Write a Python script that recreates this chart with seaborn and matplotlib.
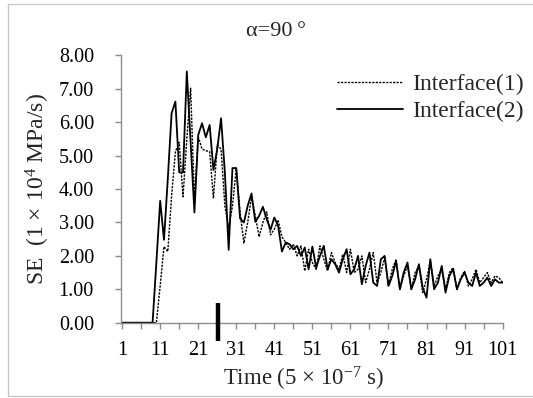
import numpy as np
import pandas as pd
import matplotlib
matplotlib.use("Agg")
import matplotlib.pyplot as plt
import seaborn as sns

# Time steps (units of 5e-7 s)
time = list(range(1, 102))

# Stress rate SE (1e4 MPa/s) along each interface
interface_1 = [
    0, 0, 0, 0, 0, 0, 0, 0, 0, 0,
    1.1, 2.28, 2.13, 3.8, 5.12, 5.4, 3.77, 5.5, 7.02, 3.67,
    5.57, 5.2, 5.15, 5.12, 3.72, 5.32, 5.2, 3.5, 2.83, 3.5,
    4.62, 3.3, 2.38, 3.0, 3.77, 3.2, 2.57, 3.0, 3.32, 2.63,
    2.8, 3.07, 2.57, 2.4, 2.2, 2.35, 2.0, 2.3, 1.55, 2.2,
    1.8, 1.6, 2.3, 1.9, 1.55, 2.1, 1.8, 1.6, 2.05, 1.5,
    2.2, 1.5, 1.6, 2.0, 1.2, 1.6, 2.1, 1.2, 1.5, 1.95,
    1.1, 1.6, 1.9, 1.0, 1.4, 1.7, 1.0, 1.5, 1.7, 0.9,
    1.3, 1.85, 1.1, 1.4, 1.6, 1.0, 1.5, 1.65, 1.0, 1.35,
    1.55, 1.1, 1.3, 1.6, 1.2, 1.35, 1.5, 1.2, 1.4, 1.35,
    1.2,
]
interface_2 = [
    0, 0, 0, 0, 0, 0, 0, 0, 0, 1.8,
    3.65, 2.48, 4.3, 6.27, 6.62, 4.5, 4.5, 7.52, 5.4, 3.3,
    5.62, 5.97, 5.55, 5.92, 4.57, 5.2, 6.12, 4.5, 2.18, 4.63,
    4.63, 3.12, 3.0, 3.5, 3.87, 3.02, 3.2, 3.47, 3.1, 2.78,
    3.15, 2.9, 2.13, 2.4, 2.35, 2.2, 2.3, 2.0, 2.25, 1.6,
    2.28, 1.65, 2.0, 2.3, 1.6, 1.9, 1.75, 1.5, 1.9, 2.2,
    1.45, 1.6, 2.0, 1.15, 1.7, 2.1, 1.2, 1.1, 1.9, 2.0,
    1.1, 1.4, 1.85, 1.0, 1.5, 1.8, 1.0, 1.3, 1.75, 1.05,
    0.75, 1.9, 1.0, 1.2, 1.7, 0.9, 1.4, 1.6, 1.0, 1.3,
    1.5, 1.2, 1.1, 1.5, 1.1, 1.2, 1.35, 1.1, 1.3, 1.2,
    1.2,
]
series_names = ["Interface(1)", "Interface(2)"]

x_ticks = list(range(1, 102, 5))
x_labels = [str(t) if (t - 1) % 10 == 0 else "" for t in x_ticks]
y_ticks = [0, 1, 2, 3, 4, 5, 6, 7, 8]
y_labels = [f"{v:.2f}" for v in y_ticks]

# Wave arrival marker on the time axis
marker_time = 26.3
marker_span = (-0.55, 0.6)

sns.set_theme(style="white")
plt.rcParams["font.family"] = ["Liberation Serif", "DejaVu Serif"]
plt.rcParams["mathtext.fontset"] = "custom"
plt.rcParams["mathtext.rm"] = "Liberation Serif"
plt.rcParams["mathtext.it"] = "Liberation Serif:italic"

df = pd.DataFrame({
    "time": time * 2,
    "SE": interface_1 + interface_2,
    "series": [series_names[0]] * len(time) + [series_names[1]] * len(time),
})

fig = plt.figure(figsize=(5.33, 3.98), dpi=100)
ax = fig.add_axes([0.227, 0.1892, 0.7167, 0.6714])

sns.lineplot(data=df[df.series == series_names[0]], x="time", y="SE", ax=ax,
             color="black", lw=1.0, dashes=False, linestyle=(0, (1.6, 0.9)),
             label=series_names[0])
sns.lineplot(data=df[df.series == series_names[1]], x="time", y="SE", ax=ax,
             color="black", lw=1.3, label=series_names[1])

ax.plot([marker_time, marker_time], marker_span, color="black", lw=3.2,
        solid_capstyle="butt", clip_on=False, zorder=5)

ax.set_xlim(0.7, 101.1)
ax.set_ylim(0, 8)
ax.set_xticks(x_ticks)
ax.set_xticklabels(x_labels)
ax.set_yticks(y_ticks)
ax.set_yticklabels(y_labels)

axis_grey = "#8c8c8c"
for side in ["top", "right"]:
    ax.spines[side].set_visible(False)
for side in ["left", "bottom"]:
    ax.spines[side].set_color(axis_grey)
    ax.spines[side].set_linewidth(1.0)
ax.tick_params(axis="y", direction="out", length=4.5, width=1.0, color=axis_grey,
               labelsize=14.5, pad=15, left=True, labelcolor="black")
ax.tick_params(axis="x", direction="out", length=4, width=1.0, color=axis_grey,
               labelsize=14.5, pad=9, bottom=True, labelcolor="black")

ax.set_xlabel("Time (5 × 10$^{-7}$ s)", fontsize=16.5, labelpad=4)
ax.xaxis.label.set_x(0.478)
ax.set_ylabel("SE  (1 × 10$^{4}$ MPa/s)", fontsize=17, labelpad=5)

fig.text(0.518, 0.92, "α=90\u2009°", ha="center", va="center", fontsize=16)

leg = ax.legend(loc="upper left", bbox_to_anchor=(337 / 533, 1 - 74 / 398),
                bbox_transform=fig.transFigure, frameon=False, fontsize=17,
                handlelength=2.8, handletextpad=0.4, labelspacing=0.2,
                borderpad=0, borderaxespad=0)

# light outer frame
fig.patches.append(plt.Rectangle((8 / 533, 2 / 398), 1.0, 1 - 6 / 398,
                                 transform=fig.transFigure, fill=False,
                                 edgecolor="#c8c8c8", lw=1.0))

fig.savefig("out.png", dpi=100)
